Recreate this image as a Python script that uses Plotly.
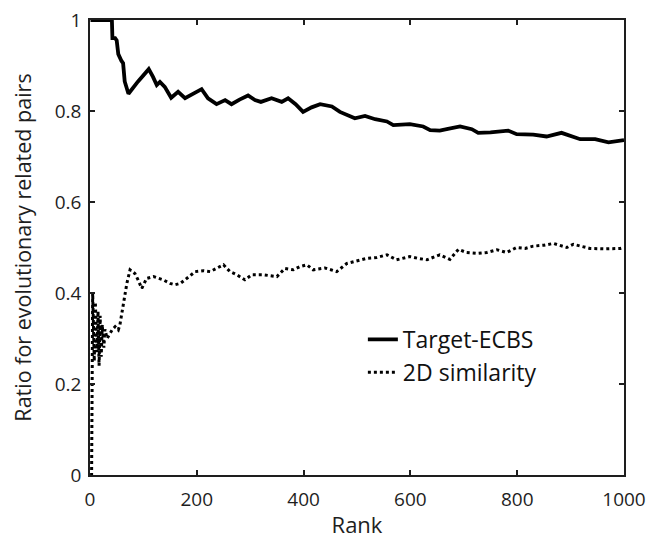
import plotly.graph_objects as go

# Target-ECBS
ecbs_rank = [1, 41, 42, 47, 50, 53, 59, 62, 65, 72, 90, 110, 118, 125, 131, 140, 152, 165, 178, 192,
             209, 221, 237, 253, 265, 280, 296, 309, 320, 340, 359, 371, 385, 399, 415, 431, 453, 468,
             482, 496, 515, 534, 556, 568, 599, 624, 637, 655, 668, 693, 715, 727, 750, 783, 799, 830,
             855, 883, 918, 946, 971, 1000]
ecbs_val = [1.0, 1.0, 0.96, 0.96, 0.955, 0.925, 0.91, 0.905, 0.865, 0.838, 0.865, 0.892, 0.875, 0.857,
            0.864, 0.853, 0.829, 0.842, 0.828, 0.838, 0.848, 0.828, 0.815, 0.824, 0.815, 0.825, 0.834,
            0.824, 0.82, 0.828, 0.82, 0.828, 0.815, 0.798, 0.808, 0.815, 0.81, 0.798, 0.792, 0.784,
            0.789, 0.782, 0.777, 0.769, 0.771, 0.766, 0.758, 0.757, 0.760, 0.766, 0.760, 0.752, 0.753,
            0.757, 0.749, 0.748, 0.744, 0.752, 0.738, 0.738, 0.731, 0.736]

# 2D similarity
sim_rank = [1, 3, 5, 8, 10, 13, 15, 17, 19, 21, 23, 26, 28, 32, 37, 42, 47, 53, 56, 62, 69, 75, 84, 90,
            97, 106, 119, 137, 150, 159, 169, 178, 197, 212, 225, 250, 262, 275, 290, 303, 325, 350,
            365, 381, 393, 406, 418, 440, 462, 481, 500, 518, 537, 556, 574, 599, 615, 631, 655, 674,
            690, 705, 725, 743, 762, 780, 799, 815, 830, 850, 868, 893, 905, 920, 936, 965, 993, 1000]
sim_val = [0.0, 0.0, 0.40, 0.25, 0.38, 0.27, 0.36, 0.24, 0.35, 0.26, 0.33, 0.28, 0.32, 0.30, 0.31, 0.32,
           0.326, 0.319, 0.33, 0.37, 0.421, 0.451, 0.443, 0.429, 0.41, 0.432, 0.436, 0.429, 0.421,
           0.418, 0.421, 0.429, 0.447, 0.449, 0.447, 0.462, 0.447, 0.44, 0.429, 0.44, 0.44, 0.436,
           0.454, 0.451, 0.458, 0.462, 0.451, 0.455, 0.447, 0.465, 0.47, 0.476, 0.478, 0.484, 0.473,
           0.48, 0.476, 0.473, 0.484, 0.474, 0.496, 0.489, 0.487, 0.489, 0.495, 0.489, 0.5, 0.498,
           0.503, 0.505, 0.509, 0.5, 0.507, 0.502, 0.498, 0.497, 0.498, 0.5]

x_ticks = [0, 200, 400, 600, 800, 1000]
y_ticks = [0, 0.2, 0.4, 0.6, 0.8, 1]
y_tick_text = ["0", "0.2", "0.4", "0.6", "0.8", "1"]

FONT = "Open Sans"
INK = "#1e1e1e"

fig = go.Figure()
fig.add_trace(go.Scatter(x=ecbs_rank, y=ecbs_val, mode="lines", name="Target-ECBS",
                         line=dict(color="black", width=3.8)))
fig.add_trace(go.Scatter(x=sim_rank, y=sim_val, mode="lines", name="2D similarity",
                         line=dict(color="black", width=3, dash="dot")))

axis_common = dict(showline=True, linecolor=INK, linewidth=1.5, mirror="ticks",
                   ticks="inside", ticklen=5, tickwidth=1.5, tickcolor=INK,
                   showgrid=False, zeroline=False, automargin=False,
                   tickfont=dict(family=FONT, size=19, color=INK))

fig.update_layout(
    width=648, height=543,
    margin=dict(l=90, r=24, t=20, b=68),
    paper_bgcolor="white", plot_bgcolor="white",
    font=dict(family=FONT, color=INK),
    xaxis=dict(range=[0, 1000], tickvals=x_ticks, ticklabelstandoff=6,
               title=dict(text="Rank", font=dict(family=FONT, size=22), standoff=7),
               **axis_common),
    yaxis=dict(range=[0, 1], tickvals=y_ticks, ticktext=y_tick_text, ticklabelstandoff=3,
               title=dict(text="Ratio for evolutionary related pairs", font=dict(family=FONT, size=21.5),
                          standoff=17),
               **axis_common),
    legend=dict(x=0.511, y=0.345, xanchor="left", yanchor="top",
                bgcolor="rgba(0,0,0,0)", font=dict(family=FONT, size=23, color="#111"),
                itemwidth=30, tracegroupgap=0),
    showlegend=True,
)

fig.write_html("out.html")
